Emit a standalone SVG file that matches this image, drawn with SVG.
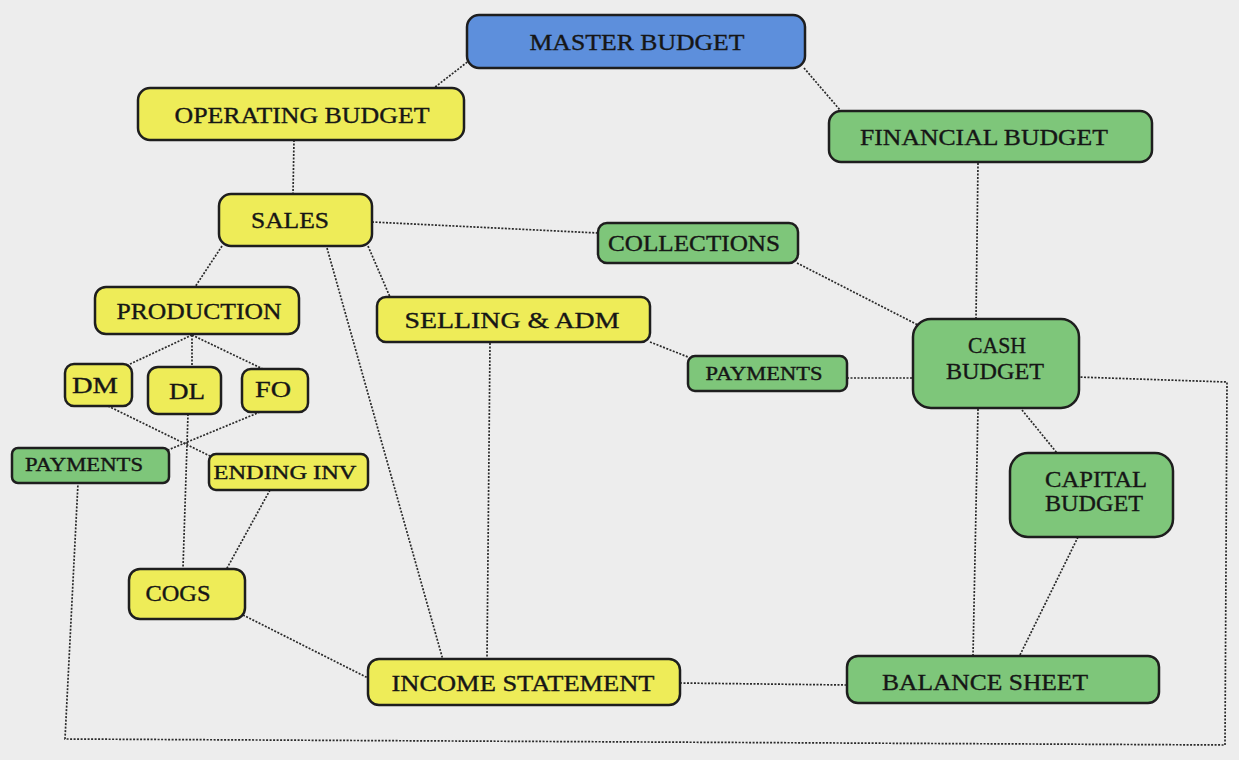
<svg xmlns="http://www.w3.org/2000/svg" width="1239" height="760" viewBox="0 0 1239 760">
<style>
.bg{fill:#ededed}
.box{stroke:#1e1e1e;stroke-width:2.5}
.y{fill:#eeec58}
.g{fill:#7ec67a}
.b{fill:#5d8fdc}
.t{font-family:"Liberation Serif","Times New Roman",serif;font-size:23px;fill:#161616;stroke:#161616;stroke-width:0.35;text-anchor:middle}
.s{font-size:18px}
.c{fill:none;stroke:#2a2a2a;stroke-width:1.7;stroke-dasharray:2 1.5}
</style>
<rect class="bg" x="0" y="0" width="1239" height="760"/>
<g id="connectors">
<line class="c" x1="470" y1="60" x2="430" y2="91"/>
<line class="c" x1="804" y1="68" x2="840" y2="110"/>
<line class="c" x1="294" y1="140" x2="293" y2="194"/>
<line class="c" x1="978" y1="163" x2="976" y2="319"/>
<line class="c" x1="372" y1="222" x2="598" y2="233"/>
<line class="c" x1="797" y1="263" x2="918" y2="325"/>
<line class="c" x1="222" y1="246" x2="195" y2="287"/>
<line class="c" x1="368" y1="246" x2="390" y2="297"/>
<line class="c" x1="327" y1="248" x2="443" y2="660"/>
<line class="c" x1="490" y1="343" x2="487" y2="659"/>
<line class="c" x1="650" y1="342" x2="688" y2="357"/>
<line class="c" x1="847" y1="378" x2="913" y2="378"/>
<polyline class="c" points="1077,377 1227,382 1225,745 65,739 78,483"/>
<line class="c" x1="978" y1="409" x2="973" y2="656"/>
<line class="c" x1="1022" y1="410" x2="1057" y2="453"/>
<line class="c" x1="1078" y1="537" x2="1020" y2="655"/>
<line class="c" x1="680" y1="683" x2="846" y2="685"/>
<line class="c" x1="243" y1="615" x2="368" y2="678"/>
<line class="c" x1="192" y1="335" x2="128" y2="365"/>
<line class="c" x1="192" y1="335" x2="192" y2="367"/>
<line class="c" x1="192" y1="335" x2="265" y2="370"/>
<line class="c" x1="108" y1="406" x2="212" y2="457"/>
<line class="c" x1="260" y1="412" x2="168" y2="450"/>
<line class="c" x1="188" y1="414" x2="183" y2="568"/>
<line class="c" x1="270" y1="490" x2="226" y2="570"/>
</g>
<g id="master-budget"><rect class="box b" x="467" y="15" width="338" height="53" rx="12"/><text class="t" x="637" y="50" textLength="215" lengthAdjust="spacingAndGlyphs">MASTER BUDGET</text></g>
<g id="operating-budget"><rect class="box y" x="138" y="88" width="326" height="52" rx="12"/><text class="t" x="302" y="123" textLength="255" lengthAdjust="spacingAndGlyphs">OPERATING BUDGET</text></g>
<g id="financial-budget"><rect class="box g" x="829" y="111" width="323" height="51" rx="12"/><text class="t" x="984" y="145" textLength="248" lengthAdjust="spacingAndGlyphs">FINANCIAL BUDGET</text></g>
<g id="sales"><rect class="box y" x="219" y="194" width="153" height="52" rx="12"/><text class="t" x="290" y="228" textLength="78" lengthAdjust="spacingAndGlyphs">SALES</text></g>
<g id="collections"><rect class="box g" x="598" y="223" width="200" height="40" rx="9"/><text class="t" x="694" y="251" textLength="172" lengthAdjust="spacingAndGlyphs">COLLECTIONS</text></g>
<g id="production"><rect class="box y" x="95" y="287" width="204" height="47" rx="11"/><text class="t" x="199" y="319" textLength="165" lengthAdjust="spacingAndGlyphs">PRODUCTION</text></g>
<g id="selling-adm"><rect class="box y" x="377" y="297" width="273" height="45" rx="9"/><text class="t" x="512" y="328" textLength="215" lengthAdjust="spacingAndGlyphs">SELLING &amp; ADM</text></g>
<g id="payments-mid"><rect class="box g" x="688" y="356" width="159" height="35" rx="7"/><text class="t s" x="764" y="380" textLength="117" lengthAdjust="spacingAndGlyphs">PAYMENTS</text></g>
<g id="cash-budget"><rect class="box g" x="913" y="319" width="166" height="89" rx="18"/><text class="t" x="997" y="353" textLength="58" lengthAdjust="spacingAndGlyphs">CASH</text><text class="t" x="995" y="379" textLength="98" lengthAdjust="spacingAndGlyphs">BUDGET</text></g>
<g id="dm"><rect class="box y" x="65" y="364" width="67" height="42" rx="9"/><text class="t" x="95" y="393" textLength="46" lengthAdjust="spacingAndGlyphs">DM</text></g>
<g id="dl"><rect class="box y" x="148" y="367" width="73" height="47" rx="10"/><text class="t" x="187" y="399" textLength="36" lengthAdjust="spacingAndGlyphs">DL</text></g>
<g id="fo"><rect class="box y" x="242" y="369" width="66" height="43" rx="9"/><text class="t" x="273" y="397" textLength="36" lengthAdjust="spacingAndGlyphs">FO</text></g>
<g id="payments-left"><rect class="box g" x="12" y="448" width="157" height="35" rx="6"/><text class="t s" x="84" y="471" textLength="118" lengthAdjust="spacingAndGlyphs">PAYMENTS</text></g>
<g id="ending-inv"><rect class="box y" x="209" y="454" width="159" height="36" rx="7"/><text class="t s" x="285" y="479" textLength="143" lengthAdjust="spacingAndGlyphs">ENDING INV</text></g>
<g id="capital-budget"><rect class="box g" x="1010" y="453" width="163" height="84" rx="18"/><text class="t" x="1096" y="487" textLength="102" lengthAdjust="spacingAndGlyphs">CAPITAL</text><text class="t" x="1094" y="511" textLength="98" lengthAdjust="spacingAndGlyphs">BUDGET</text></g>
<g id="cogs"><rect class="box y" x="129" y="569" width="116" height="50" rx="11"/><text class="t" x="178" y="601" textLength="65" lengthAdjust="spacingAndGlyphs">COGS</text></g>
<g id="income-statement"><rect class="box y" x="368" y="659" width="312" height="46" rx="11"/><text class="t" x="523" y="691" textLength="263" lengthAdjust="spacingAndGlyphs">INCOME STATEMENT</text></g>
<g id="balance-sheet"><rect class="box g" x="847" y="656" width="312" height="47" rx="11"/><text class="t" x="985" y="690" textLength="206" lengthAdjust="spacingAndGlyphs">BALANCE SHEET</text></g>
</svg>
